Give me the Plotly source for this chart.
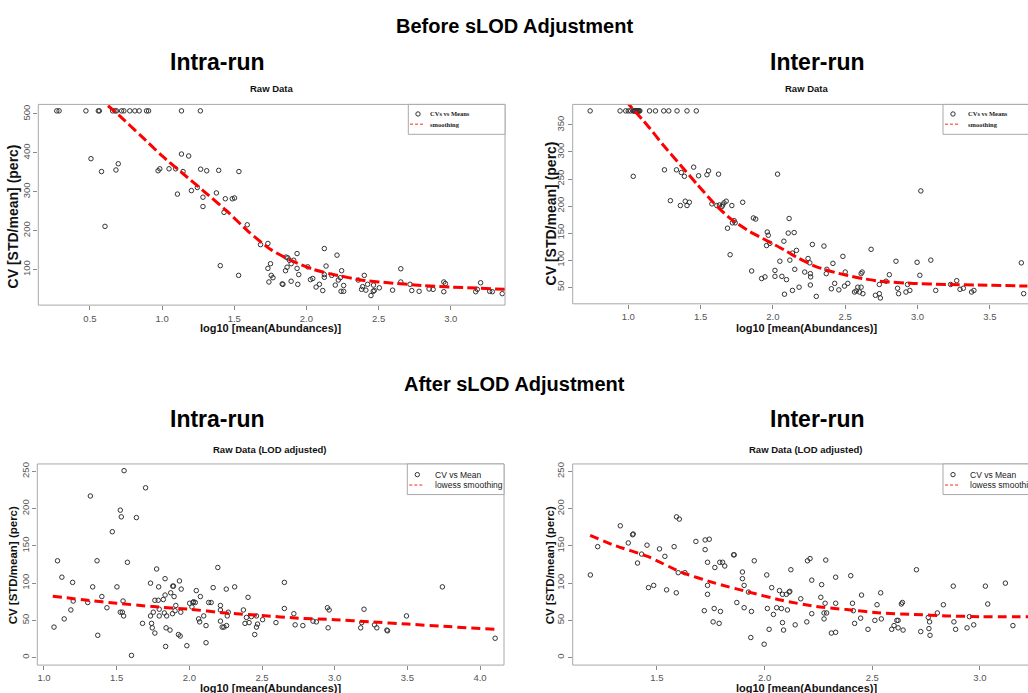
import plotly.graph_objects as go

W, H = 1028, 693

# ---------------- data: before sLOD adjustment, intra-run ----------------
intra_before_log10 = [
    0.27, 0.286, 0.472, 0.558, 0.565, 0.657, 0.673, 0.684, 0.719, 0.735, 0.776, 0.811,
    0.841, 0.892, 0.906, 1.134, 1.265,
    0.507, 0.58, 0.68, 0.696, 0.604, 0.972, 0.984, 1.048, 1.094, 1.106, 1.134, 1.145,
    1.184, 1.203, 1.244, 1.267, 1.283, 1.283, 1.309, 1.376, 1.392, 1.403, 1.429, 1.438,
    1.486, 1.502, 1.532, 1.530, 1.590, 1.682, 1.733, 1.733, 1.751, 1.740, 1.756, 1.768,
    1.832, 1.837, 1.855, 1.859, 1.871, 1.866, 1.882, 1.894, 1.894, 1.912, 1.935, 1.935,
    1.947, 1.940, 2.009, 2.028, 2.044, 2.067, 2.090, 2.113, 2.124, 2.124, 2.136, 2.124,
    2.175, 2.200, 2.212, 2.221, 2.235, 2.240, 2.244, 2.258, 2.258, 2.359, 2.382, 2.389,
    2.401, 2.412, 2.424, 2.447, 2.463, 2.465, 2.470, 2.505, 2.597, 2.654, 2.654, 2.718,
    2.730, 2.781, 2.850, 2.878, 2.952, 2.952, 2.963, 3.173, 3.184, 3.207, 3.270, 3.288,
    3.357,
]
intra_before_cv = [
    508, 508, 508, 508, 508, 508, 508, 508, 508, 508, 508, 508,
    508, 508, 508, 508, 508,
    385, 352, 356, 372, 211, 354, 359, 359, 359, 294, 397, 352,
    392, 303, 311, 358, 286, 262, 354, 297, 355, 110, 247, 282,
    282, 284, 352, 85, 215, 164, 167, 103, 115, 68, 85, 79,
    63, 62, 97, 132, 130, 106, 124, 70, 115, 124, 141, 103,
    87, 62, 107, 74, 77, 55, 62, 46, 154, 87, 109, 80,
    85, 60, 137, 73, 79, 44, 97, 44, 59, 73, 49, 56,
    85, 47, 62, 33, 44, 60, 46, 53, 47, 102, 68, 62,
    46, 44, 50, 49, 43, 68, 64, 43, 49, 66, 44, 43,
    38,
]
intra_before_fit_log10 = [0.55, 0.70, 0.85, 1.00, 1.15, 1.30, 1.45, 1.60, 1.75, 1.90,
                          2.05, 2.20, 2.40, 2.60, 2.80, 3.00, 3.20, 3.38]
intra_before_fit_cv = [545, 497, 445, 392, 345, 298, 250, 197, 152, 122,
                       100, 86, 72, 65, 59, 55, 52, 49]

# ---------------- data: before sLOD adjustment, inter-run ----------------
inter_before_log10 = [
    0.736, 0.943, 0.982, 1.000, 1.016, 1.034, 1.038, 1.044, 1.048, 1.053, 1.058, 1.062,
    1.066, 1.071, 1.075, 1.080, 1.147, 1.188, 1.245, 1.280, 1.337, 1.406, 1.470,
    1.034, 1.250, 1.291, 1.333, 1.360, 1.367, 1.388, 1.394, 1.406, 1.422, 1.452, 1.486,
    1.544, 1.555, 1.578, 1.612, 1.624, 1.630, 1.647, 1.653, 1.662, 1.677, 1.686, 1.704,
    1.716, 1.720, 1.732, 1.739, 1.791, 1.853, 1.865, 1.881, 1.922, 1.945, 1.956, 1.961,
    1.968, 1.979, 2.014, 2.014, 2.032, 2.048, 2.062, 2.076, 2.080, 2.094, 2.106, 2.112,
    2.117, 2.135, 2.135, 2.147, 2.151, 2.163, 2.181, 2.220, 2.243, 2.255, 2.259, 2.259,
    2.261, 2.273, 2.300, 2.353, 2.369, 2.373, 2.404, 2.415, 2.427, 2.456, 2.484, 2.495,
    2.500, 2.518, 2.564, 2.576, 2.587, 2.599, 2.610, 2.610, 2.617, 2.622, 2.679, 2.709,
    2.736, 2.736, 2.743, 2.782, 2.805, 2.851, 2.862, 2.869, 2.920, 2.931, 2.947, 2.997,
    3.016, 3.023, 3.092, 3.126, 3.229, 3.271, 3.294, 3.317, 3.374, 3.390, 3.718, 3.734,
]
inter_before_cv = [
    376, 376, 376, 376, 376, 376, 376, 376, 376, 376, 376, 376,
    376, 376, 376, 376, 376, 376, 376, 376, 376, 376, 376,
    255, 267, 210, 267, 201, 262, 255, 209, 201, 207, 272, 256,
    258, 265, 204, 201, 259, 202, 199, 202, 206, 209, 159, 110,
    201, 169, 173, 169, 207, 80, 178, 176, 66, 69, 127, 152,
    146, 131, 81, 70, 259, 98, 70, 135, 37, 64, 150, 177,
    100, 44, 113, 151, 83, 118, 50, 78, 103, 95, 75, 54,
    69, 129, 33, 126, 75, 83, 47, 94, 57, 45, 107, 52,
    78, 57, 41, 43, 50, 41, 50, 75, 78, 38, 120, 35,
    55, 38, 30, 61, 73, 98, 48, 38, 41, 55, 44, 96,
    72, 228, 100, 44, 55, 62, 46, 48, 41, 44, 95, 38,
]
inter_before_fit_log10 = [0.98, 1.13, 1.25, 1.36, 1.48, 1.59, 1.70, 1.82, 1.93, 2.05,
                          2.16, 2.28, 2.39, 2.51, 2.62, 2.74, 2.97, 3.20, 3.42, 3.76]
inter_before_fit_cv = [395, 350, 310, 276, 239, 206, 178, 156, 140, 123,
                       106, 90, 80, 72, 66, 61, 57, 55, 54, 52]

# ---------------- data: after sLOD adjustment, intra-run ----------------
intra_after_log10 = [
    1.069, 1.093, 1.123, 1.139, 1.185, 1.197, 1.201, 1.301, 1.319, 1.335, 1.365, 1.370,
    1.398, 1.433, 1.470, 1.502, 1.525, 1.532, 1.525, 1.539, 1.544, 1.548, 1.551, 1.574,
    1.602, 1.636, 1.678, 1.699, 1.733, 1.733, 1.740, 1.745, 1.752, 1.763, 1.763, 1.775,
    1.786, 1.789, 1.793, 1.793, 1.821, 1.828, 1.833, 1.833, 1.837, 1.840, 1.844, 1.867,
    1.872, 1.884, 1.886, 1.891, 1.895, 1.902, 1.907, 1.925, 1.932, 1.937, 1.941, 1.944,
    1.983, 2.002, 2.018, 2.025, 2.029, 2.041, 2.048, 2.064, 2.071, 2.076, 2.099, 2.115,
    2.115, 2.133, 2.150, 2.164, 2.196, 2.214, 2.214, 2.214, 2.226, 2.238, 2.254, 2.256,
    2.261, 2.268, 2.312, 2.372, 2.383, 2.393, 2.404, 2.411, 2.427, 2.450, 2.462, 2.462,
    2.469, 2.504, 2.596, 2.654, 2.654, 2.719, 2.728, 2.781, 2.851, 2.874, 2.950, 2.955,
    2.962, 3.179, 3.186, 3.202, 3.274, 3.290, 3.359, 3.364, 3.494, 3.741, 4.104,
]
intra_after_cv = [
    41, 130, 108, 52, 64, 101, 76, 74, 217, 95, 130, 30,
    82, 67, 169, 95, 198, 189, 61, 61, 76, 56, 251, 128,
    3, 188, 46, 228, 100, 56, 46, 40, 61, 77, 33, 119,
    77, 95, 65, 56, 78, 60, 106, 84, 15, 40, 56, 37,
    87, 59, 96, 96, 82, 63, 70, 31, 103, 29, 61, 92,
    16, 73, 68, 74, 75, 74, 90, 52, 48, 82, 56, 43,
    20, 74, 74, 94, 121, 70, 64, 49, 41, 41, 92, 43,
    56, 61, 95, 64, 46, 54, 81, 47, 55, 31, 56, 41,
    45, 51, 47, 101, 66, 59, 44, 43, 49, 48, 67, 40,
    64, 40, 47, 65, 44, 40, 37, 36, 56, 95, 26,
]
intra_after_fit_log10 = [1.06, 1.30, 1.50, 1.75, 2.00, 2.25, 2.50, 2.75, 3.00, 3.25,
                         3.50, 3.75, 4.10]
intra_after_fit_cv = [82.5, 77, 73, 68.5, 65, 60, 56.5, 53, 51, 48, 45, 42, 38]

# ---------------- data: after sLOD adjustment, inter-run ----------------
inter_after_log10 = [
    1.191, 1.225, 1.330, 1.367, 1.387, 1.390, 1.410, 1.429, 1.454, 1.461, 1.485, 1.512,
    1.537, 1.545, 1.580, 1.590, 1.591, 1.604, 1.599, 1.630, 1.681, 1.720, 1.724, 1.724,
    1.735, 1.735, 1.735, 1.743, 1.761, 1.766, 1.769, 1.789, 1.792, 1.795, 1.805, 1.815,
    1.856, 1.859, 1.871, 1.897, 1.897, 1.905, 1.905, 1.925, 1.936, 1.939, 1.952, 1.998,
    2.010, 2.013, 2.021, 2.033, 2.041, 2.056, 2.069, 2.078, 2.083, 2.083, 2.088, 2.101,
    2.106, 2.114, 2.117, 2.122, 2.142, 2.168, 2.196, 2.199, 2.211, 2.219, 2.219, 2.261,
    2.265, 2.276, 2.276, 2.281, 2.284, 2.288, 2.310, 2.330, 2.330, 2.330, 2.400, 2.408,
    2.412, 2.418, 2.446, 2.450, 2.480, 2.512, 2.522, 2.539, 2.542, 2.590, 2.601, 2.614,
    2.620, 2.620, 2.635, 2.640, 2.643, 2.705, 2.725, 2.760, 2.766, 2.763, 2.768, 2.802,
    2.830, 2.876, 2.879, 2.887, 2.940, 2.951, 2.971, 3.025, 3.036, 3.118, 3.153,
]
inter_after_cv = [
    111, 149, 177, 154, 165, 166, 127, 139, 151, 94, 97, 146,
    136, 91, 149, 87, 189, 186, 114, 114, 156, 63, 145, 158,
    128, 97, 85, 159, 48, 66, 121, 46, 128, 62, 128, 123,
    138, 138, 74, 115, 106, 67, 97, 88, 27, 62, 130, 18,
    111, 66, 38, 94, 58, 67, 90, 66, 85, 47, 37, 85,
    64, 88, 89, 118, 44, 79, 48, 130, 133, 104, 59, 81,
    98, 52, 60, 73, 131, 60, 33, 34, 73, 108, 110, 73,
    63, 46, 53, 84, 38, 50, 71, 87, 52, 38, 43, 50,
    50, 40, 72, 74, 37, 118, 35, 54, 48, 39, 30, 60,
    71, 96, 48, 38, 40, 55, 44, 96, 72, 100, 43,
]
inter_after_fit_log10 = [1.19, 1.30, 1.46, 1.61, 1.77, 1.92, 2.08, 2.23, 2.38, 2.54,
                         2.69, 2.85, 3.00, 3.23]
inter_after_fit_cv = [164, 151, 135.5, 115, 100, 88.5, 77, 69, 64.5, 60,
                      58, 56, 55, 55]

# ---------------- axis scales ----------------
x_ticks_intra_before = [0.5, 1.0, 1.5, 2.0, 2.5, 3.0]
y_ticks_intra_before = [100, 200, 300, 400, 500]
x_ticks_inter_before = [1.0, 1.5, 2.0, 2.5, 3.0, 3.5]
y_ticks_inter_before = [50, 100, 150, 200, 250, 300, 350]
x_ticks_intra_after = [1.0, 1.5, 2.0, 2.5, 3.0, 3.5, 4.0]
x_ticks_inter_after = [1.5, 2.0, 2.5, 3.0]
y_ticks_after = [0, 50, 100, 150, 200, 250]


def fx(px):
    return px / W


def fy(py):
    return 1 - py / H


SANS = "Liberation Sans, Arial, Helvetica, sans-serif"
NARROW = "Liberation Sans Narrow, Liberation Sans, Arial, sans-serif"
SERIF = "Liberation Serif, Times New Roman, serif"

panels = [
    dict(x=intra_before_log10, y=intra_before_cv, fx=intra_before_fit_log10, fy=intra_before_fit_cv,
         box=(38.3, 505, 102.7, 304), xr=[0.142, 3.376], yr=[8.5, 524.6],
         xt=x_ticks_intra_before, yt=y_ticks_intra_before, dash="10px,4px"),
    dict(x=inter_before_log10, y=inter_before_cv, fx=inter_before_fit_log10, fy=inter_before_fit_cv,
         box=(572.7, 1028, 102.7, 302.7), xr=[0.6155, 3.764], yr=[19.2, 388],
         xt=x_ticks_inter_before, yt=y_ticks_inter_before, dash="10px,4px"),
    dict(x=intra_after_log10, y=intra_after_cv, fx=intra_after_fit_log10, fy=intra_after_fit_cv,
         box=(37.3, 504, 463.3, 665), xr=[0.954, 4.165], yr=[-10, 260],
         xt=x_ticks_intra_after, yt=y_ticks_after, dash="9px,5px"),
    dict(x=inter_after_log10, y=inter_after_cv, fx=inter_after_fit_log10, fy=inter_after_fit_cv,
         box=(572.7, 1028, 463.3, 665), xr=[1.109, 3.223], yr=[-10, 260],
         xt=x_ticks_inter_after, yt=y_ticks_after, dash="9px,5px"),
]

fig = go.Figure()
layout = dict(
    width=W, height=H, margin=dict(l=0, r=0, t=0, b=0),
    paper_bgcolor="white", plot_bgcolor="white", showlegend=False,
    font=dict(family=SANS, color="#222"),
)
shapes = []
annotations = []

for i, p in enumerate(panels, start=1):
    xa = "x" if i == 1 else f"x{i}"
    ya = "y" if i == 1 else f"y{i}"
    fig.add_trace(go.Scatter(
        x=p["x"], y=p["y"], xaxis=xa, yaxis=ya, mode="markers",
        marker=dict(symbol="circle-open", size=4.5, color="#333", line=dict(width=1, color="#333")),
        cliponaxis=False, hoverinfo="x+y",
    ))
    fig.add_trace(go.Scatter(
        x=p["fx"], y=p["fy"], xaxis=xa, yaxis=ya, mode="lines",
        line=dict(color="#ff0000", width=3, dash=p["dash"], shape="spline", smoothing=0.6),
        hoverinfo="skip",
    ))
    l, r, t, b = p["box"]
    axis_common = dict(
        showgrid=False, zeroline=False, showline=False, ticks="outside", ticklen=4,
        tickwidth=1, tickcolor="#8a8a8a", tickfont=dict(family=NARROW, size=9.5, color="#555"),
    )
    layout["xaxis" if i == 1 else f"xaxis{i}"] = dict(
        domain=[fx(l), fx(r)], range=p["xr"], anchor=ya, tickmode="array",
        tickvals=p["xt"], ticktext=[f"{v:.1f}" for v in p["xt"]], **axis_common,
    )
    layout["yaxis" if i == 1 else f"yaxis{i}"] = dict(
        domain=[fy(b), fy(t)], range=p["yr"], anchor=xa, tickmode="array",
        tickvals=p["yt"], ticktext=[str(v) for v in p["yt"]], tickangle=-90, **axis_common,
    )
    # plot frame (right-hand panels run off the page edge)
    shapes.append(dict(type="rect", xref="paper", yref="paper",
                       x0=fx(l), x1=fx(r + (20 if r >= W else 0)), y0=fy(b), y1=fy(t),
                       line=dict(color="#a8a8a8", width=1), layer="above"))


def note(text, px, py, size, bold=False, color="#000", angle=0, family=SANS, xanchor="center"):
    annotations.append(dict(
        text=f"<b>{text}</b>" if bold else text, x=fx(px), y=fy(py), xref="paper", yref="paper",
        showarrow=False, xanchor=xanchor, yanchor="middle", textangle=angle,
        font=dict(family=family, size=size, color=color),
    ))


# ---------------- titles ----------------
note("Before sLOD Adjustment", 514, 24, 20, bold=True)
note("After sLOD Adjustment", 514, 383, 20, bold=True)
note("Intra-run", 217, 60, 23, bold=True)
note("Inter-run", 817, 60, 23, bold=True)
note("Intra-run", 217, 418, 23, bold=True)
note("Inter-run", 817, 418, 23, bold=True)
note("Raw Data", 271, 86.7, 9.5, bold=True, color="#111")
note("Raw Data", 806, 86.7, 9.5, bold=True, color="#111")
note("Raw Data (LOD adjusted)", 270.3, 448.3, 9.5, bold=True, color="#111")
note("Raw Data (LOD adjusted)", 806, 448.3, 9.5, bold=True, color="#111")
for cx, cy in [(271, 327), (806.7, 327), (271, 687.5), (806.7, 687.5)]:
    note("log10 [mean(Abundances)]", cx, cy, 11, bold=True, color="#111")
for cx, cy, sz in [(13, 215, 14), (551, 212, 14), (13, 565, 11.5), (550, 565, 11.5)]:
    note("CV [STD/mean] (perc)", cx, cy, sz, bold=True, color="#111", angle=-90)

# ---------------- legends ----------------
legends = [
    dict(box=(408.3, 505, 102.7, 132.7), dot=(418, 112.3), line=(410, 423, 122.7), tx=427.7,
         labels=["CVs vs Means", "smoothing"], rows=(112.3, 122.7), family=SERIF, size=6.5, bold=True),
    dict(box=(943, 1040, 102.7, 132.7), dot=(953, 112.3), line=(945, 959, 122.7), tx=965.7,
         labels=["CVs vs Means", "smoothing"], rows=(112.3, 122.7), family=SERIF, size=6.5, bold=True),
    dict(box=(407.3, 504, 463.3, 494), dot=(417.3, 474), line=(409.3, 424, 484.3), tx=432.7,
         labels=["CV vs Mean", "lowess smoothing"], rows=(474, 484.3), family=SANS, size=8.5, bold=False),
    dict(box=(943, 1040, 463.3, 494), dot=(953, 474), line=(945, 959, 484.3), tx=968,
         labels=["CV vs Mean", "lowess smoothing"], rows=(474, 484.3), family=SANS, size=8.5, bold=False),
]
for lg in legends:
    l, r, t, b = lg["box"]
    shapes.append(dict(type="rect", xref="paper", yref="paper", x0=fx(l), x1=fx(r), y0=fy(b), y1=fy(t),
                       line=dict(color="#a8a8a8", width=1), fillcolor="white", layer="above"))
    cx, cy = lg["dot"]
    shapes.append(dict(type="circle", xref="paper", yref="paper", x0=fx(cx - 2.2), x1=fx(cx + 2.2),
                       y0=fy(cy + 2.2), y1=fy(cy - 2.2), line=dict(color="#333", width=1), layer="above"))
    x0, x1, ly = lg["line"]
    shapes.append(dict(type="line", xref="paper", yref="paper", x0=fx(x0), x1=fx(x1), y0=fy(ly), y1=fy(ly),
                       line=dict(color="#ff6f6f", width=1.5, dash="3px,2px"), layer="above"))
    for lab, ry in zip(lg["labels"], lg["rows"]):
        note(lab, lg["tx"], ry, lg["size"], bold=lg["bold"], color="#222", family=lg["family"],
             xanchor="left")

layout["shapes"] = shapes
layout["annotations"] = annotations
fig.update_layout(**layout)
fig.write_html("out.html")
